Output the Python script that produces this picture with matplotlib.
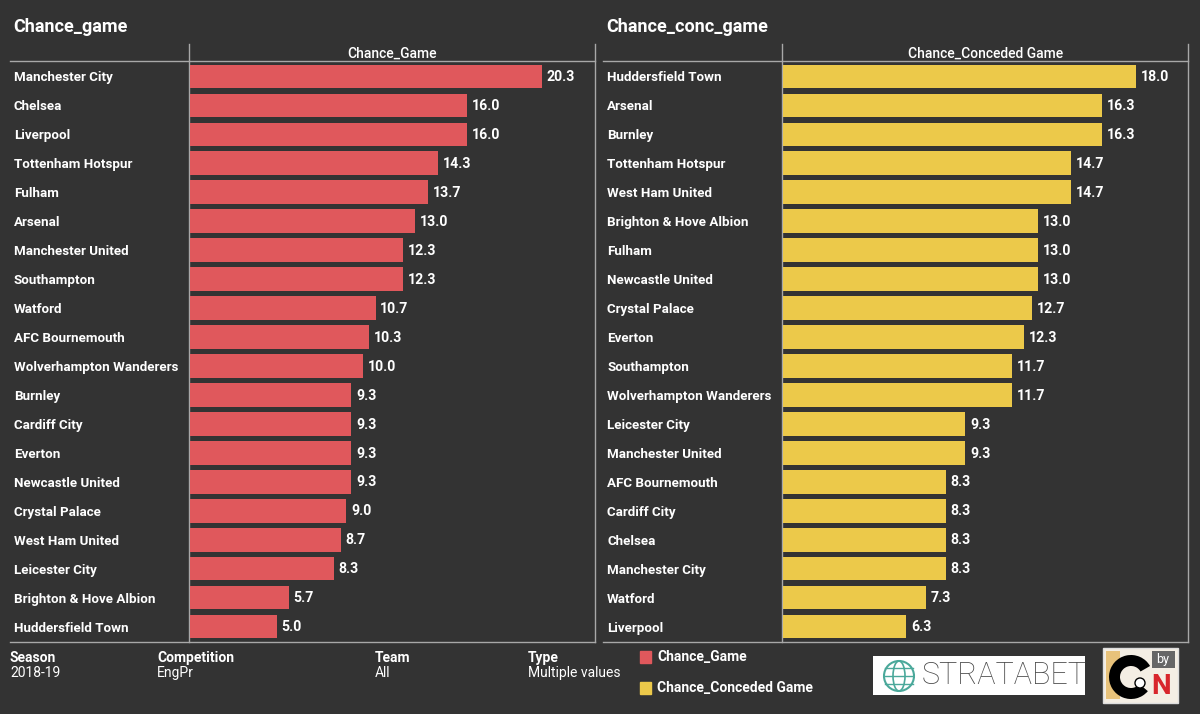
import matplotlib
matplotlib.use("Agg")
import matplotlib.pyplot as plt
from matplotlib.patches import Rectangle, Circle, Ellipse, Wedge
from matplotlib.lines import Line2D

# ---------------- data ----------------
left_title = "Chance_game"
left_header = "Chance_Game"
left_teams = ["Manchester City", "Chelsea", "Liverpool", "Tottenham Hotspur", "Fulham",
              "Arsenal", "Manchester United", "Southampton", "Watford", "AFC Bournemouth",
              "Wolverhampton Wanderers", "Burnley", "Cardiff City", "Everton",
              "Newcastle United", "Crystal Palace", "West Ham United", "Leicester City",
              "Brighton & Hove Albion", "Huddersfield Town"]
left_values = [20.3, 16.0, 16.0, 14.3, 13.7, 13.0, 12.3, 12.3, 10.7, 10.3,
               10.0, 9.3, 9.3, 9.3, 9.3, 9.0, 8.7, 8.3, 5.7, 5.0]

right_title = "Chance_conc_game"
right_header = "Chance_Conceded Game"
right_teams = ["Huddersfield Town", "Arsenal", "Burnley", "Tottenham Hotspur",
               "West Ham United", "Brighton & Hove Albion", "Fulham", "Newcastle United",
               "Crystal Palace", "Everton", "Southampton", "Wolverhampton Wanderers",
               "Leicester City", "Manchester United", "AFC Bournemouth", "Cardiff City",
               "Chelsea", "Manchester City", "Watford", "Liverpool"]
right_values = [18.0, 16.3, 16.3, 14.7, 14.7, 13.0, 13.0, 13.0, 12.7, 12.3,
                11.7, 11.7, 9.3, 9.3, 8.3, 8.3, 8.3, 8.3, 7.3, 6.3]

filter_names = ["Season", "Competition", "Team", "Type"]
filter_values = ["2018-19", "EngPr", "All", "Multiple values"]

# ---------------- style ----------------
W, H = 1200, 714
BG = "#333333"
RED = "#E0585C"
YEL = "#ECC94A"
LINE = "#A8A8A8"
FONT = ["Roboto", "Liberation Sans", "DejaVu Sans"]
plt.rcParams["font.family"] = FONT

fig = plt.figure(figsize=(W / 100, H / 100), dpi=100, facecolor=BG)

ov = fig.add_axes([0, 0, 1, 1], zorder=0)
ov.set_xlim(0, W)
ov.set_ylim(H, 0)
ov.axis("off")


def px_rect(x0, y0, x1, y1):
    return [x0 / W, 1 - y1 / H, (x1 - x0) / W, (y1 - y0) / H]


def panel(x_lab, x_axis, x_right, teams, values, color, title, header, xmax):
    top, bot = 62, 641
    ax = fig.add_axes(px_rect(x_axis, top, x_right, bot), zorder=2)
    ax.set_facecolor("none")
    y = list(range(len(teams)))
    ax.barh(y, values, height=0.82, color=color, left=0)
    ax.set_xlim(0, xmax)
    ax.set_ylim(len(teams) - 0.5, -0.5)
    for s in ax.spines.values():
        s.set_visible(False)
    ax.set_xticks([])
    ax.set_yticks(y)
    ax.set_yticklabels(teams)
    pad_pt = (x_axis - x_lab) * 72 / 100
    ax.tick_params(axis="y", length=0, pad=pad_pt, labelcolor="white", labelsize=9.6)
    for lab in ax.get_yticklabels():
        lab.set_ha("left")
        lab.set_fontweight("bold")
    for yi, v in zip(y, values):
        ax.annotate(f"{v:.1f}", (v, yi), xytext=(3.5, -0.5), textcoords="offset points",
                    ha="left", va="center", color="white", fontsize=10.2, fontweight="bold")
    ov.add_line(Line2D([x_lab - 4, x_right], [61, 61], color=LINE, lw=1))
    ov.add_line(Line2D([x_lab - 4, x_right], [641.5, 641.5], color=LINE, lw=1))
    ov.add_line(Line2D([x_axis - 1, x_axis - 1], [44, 641.5], color=LINE, lw=1))
    ov.add_line(Line2D([x_right, x_right], [44, 641.5], color=LINE, lw=1))
    ov.text((x_axis + x_right) / 2, 54, header, ha="center", va="center",
            color="white", fontsize=10, fontweight="medium")
    ov.text(x_lab - 1, 27, title, ha="left", va="center", color="white",
            fontsize=13, fontweight="bold")


panel(14, 190, 595, left_teams, left_values, RED, left_title, left_header, 23.36)
panel(607, 783, 1188, right_teams, right_values, YEL, right_title, right_header, 20.68)

# filters
fx = [10, 157, 375, 528]
for x, n, v in zip(fx, filter_names, filter_values):
    ov.text(x, 658, n, ha="left", va="center", color="white", fontsize=10, fontweight="bold")
    ov.text(x, 673, v, ha="left", va="center", color="white", fontsize=10)

# legend
ov.add_patch(Rectangle((640, 651), 11, 12, color=RED))
ov.text(657, 657, left_header, ha="left", va="center", color="white", fontsize=10,
        fontweight="bold")
ov.add_patch(Rectangle((640, 682), 11, 12, color=YEL))
ov.text(657, 688, right_header, ha="left", va="center", color="white", fontsize=10,
        fontweight="bold")

# STRATABET logo
ov.add_patch(Rectangle((873, 656), 212, 39, facecolor="white", edgecolor="none"))
ov.add_patch(Circle((899, 676), 15, facecolor="none", edgecolor="#4AA89A", lw=1.5))
ov.add_patch(Ellipse((899, 676), 12, 30, facecolor="none", edgecolor="#4AA89A", lw=1.2))
for yy in (668, 676, 684):
    ov.add_line(Line2D([885, 913], [yy, yy], color="#4AA89A", lw=1.0))
ov.text(1004, 676, "STRATABET", ha="center", va="center", color="#4A4A4A",
        fontsize=22, fontweight="light")

# GN logo
ov.add_patch(Rectangle((1103, 648), 75, 55, facecolor="#F4EEE4", edgecolor="#DDDDDD", lw=1))
ov.add_patch(Rectangle((1106, 651), 14, 48, facecolor="#E8C27A", edgecolor="none"))
ov.add_patch(Wedge((1131, 677), 22, 40, 330, width=11, facecolor="black"))
ov.add_patch(Circle((1140, 683), 5, facecolor="white", edgecolor="black", lw=1))
ov.add_patch(Rectangle((1152, 651), 23, 17, facecolor="#666666", edgecolor="none"))
ov.text(1163, 659, "by", ha="center", va="center", color="white", fontsize=9)
ov.text(1161, 686, "N", ha="center", va="center", color="#D8262C", fontsize=20,
        fontweight="bold")

fig.savefig("out.png", dpi=100, facecolor=BG)
